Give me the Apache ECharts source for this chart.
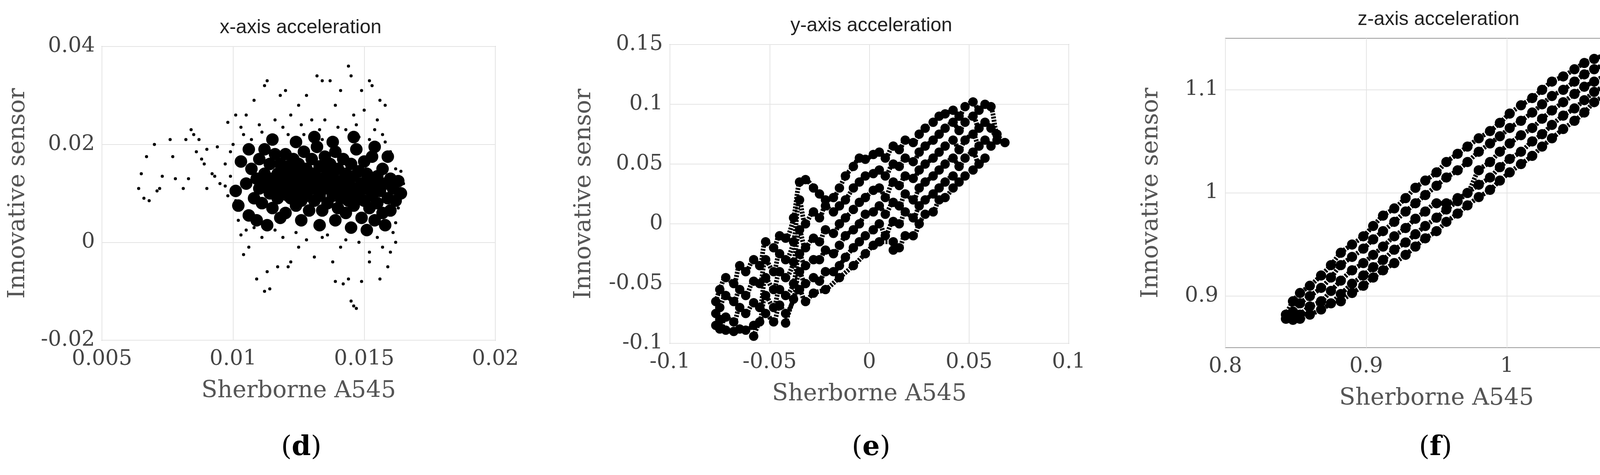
<!DOCTYPE html>
<html><head><meta charset="utf-8">
<script src="https://cdn.jsdelivr.net/npm/echarts@6/dist/echarts.min.js"></script>
<style>html,body{margin:0;background:#fff}#c{width:4303px;height:1216px}</style>
</head><body><div id="c"></div>
<script>
const titles = ['x-axis acceleration','y-axis acceleration','z-axis acceleration'];
const panelLetters = ['d','e','f'];
const xName = 'Sherborne A545', yName = 'Innovative sensor';
// Panel d: x-axis acceleration
const dOutliers = [[0.0065,0.014],[0.0064,0.011],[0.0066,0.009],[0.0068,0.0085],[0.007,0.020],[0.0067,0.0175],[0.0072,0.011],[0.0073,0.0135],[0.0071,0.0105],[0.0076,0.021],[0.0077,0.0175],[0.0078,0.013],[0.0081,0.011],[0.0082,0.021],[0.0084,0.023],[0.0085,0.022],[0.0087,0.021],[0.0086,0.0185],[0.0088,0.017],[0.0083,0.013],[0.009,0.019],[0.0089,0.016],[0.0092,0.014],[0.0093,0.0135],[0.009,0.011],[0.0094,0.0195],[0.0095,0.012],[0.0097,0.0115],[0.0098,0.0245],[0.0099,0.0185],[0.0097,0.016],
[0.0113,0.033],[0.0112,0.032],[0.0108,0.029],[0.0105,0.026],[0.0101,0.026],[0.0118,0.030],[0.012,0.031],[0.0125,0.028],[0.0128,0.030],[0.0132,0.034],[0.0134,0.033],[0.0137,0.033],[0.0141,0.031],[0.0144,0.036],[0.0145,0.034],[0.0149,0.031],[0.0152,0.033],[0.0153,0.032],[0.0156,0.029],[0.0158,0.028],[0.0155,0.025],[0.0150,0.027],[0.0146,0.026],[0.0139,0.028],[0.0135,0.025],[0.013,0.025],[0.0122,0.026],[0.0116,0.025],[0.011,0.024],[0.0104,0.022],[0.0157,0.022],[0.0143,0.023],[0.0148,0.0215],[0.0127,0.022],[0.0121,0.022],[0.0134,0.021],[0.0107,0.021],[0.0114,0.0205],[0.0152,0.021],
[0.0113,-0.006],[0.0112,-0.010],[0.0114,-0.0095],[0.0109,-0.0075],[0.0106,-0.001],[0.0104,-0.0025],[0.0117,-0.005],[0.0121,-0.005],[0.0122,-0.004],[0.0125,-0.001],[0.0131,-0.003],[0.0138,-0.004],[0.0139,-0.008],[0.0142,-0.0085],[0.0144,-0.0075],[0.0145,-0.012],[0.0146,-0.013],[0.0147,-0.0135],[0.0149,-0.008],[0.0152,-0.004],[0.0156,-0.0075],[0.0159,-0.005],[0.016,-0.002],[0.0162,0.0],[0.0152,-0.002],[0.0148,0],[0.0141,-0.001],[0.0134,0.001],[0.0128,0.0005],[0.0119,0.001],[0.0111,0.001],[0.0103,0.0015],[0.0108,0.003],[0.0155,0.001],[0.0162,0.004],[0.0163,0.007],
[0.0102,0.0045],[0.0105,0.0025],[0.0116,0.0025],[0.0124,0.002],[0.0136,0.0015],[0.0143,0.0005],[0.0157,-0.001],[0.0161,0.002],[0.0100,0.020],[0.0103,0.0235],[0.0111,0.0225],[0.0119,0.0235],[0.0126,0.024],[0.0133,0.023],[0.0140,0.0235],[0.0147,0.024],[0.0154,0.023],[0.0158,0.0205],[0.0160,0.0185],[0.0162,0.015],[0.0165,0.012],[0.0164,0.0145],[0.0099,0.0135],[0.0098,0.0095],[0.0101,0.0085]];
const dCore = [[0.0105,0.012],[0.0107,0.015],[0.0108,0.009],[0.0109,0.013],[0.011,0.017],[0.011,0.011],[0.0111,0.008],[0.0112,0.014],[0.0112,0.019],[0.0113,0.012],[0.0114,0.010],[0.0114,0.016],[0.0115,0.013],[0.0115,0.007],[0.0116,0.018],[0.0116,0.011],[0.0117,0.014],[0.0117,0.009],[0.0118,0.016],[0.0118,0.012],[0.0119,0.010],[0.0119,0.0145],[0.012,0.018],[0.012,0.013],[0.012,0.006],[0.0121,0.011],[0.0121,0.0155],[0.0122,0.009],[0.0122,0.0135],[0.0123,0.017],[0.0123,0.012],[0.0124,0.0075],[0.0124,0.0145],[0.0125,0.0105],[0.0125,0.016],[0.0126,0.013],[0.0126,0.0085],[0.0127,0.0185],[0.0127,0.0115],[0.0128,0.015],[0.0128,0.0095],[0.0129,0.0125],[0.0129,0.0065],[0.013,0.017],[0.013,0.011],[0.0131,0.014],[0.0131,0.0085],[0.0132,0.0195],[0.0132,0.012],[0.0133,0.0155],[0.0133,0.0095],[0.0134,0.013],[0.0134,0.0065],[0.0135,0.0175],[0.0135,0.011],[0.0136,0.0145],[0.0136,0.008],[0.0137,0.012],[0.0137,0.016],[0.0138,0.0095],[0.0138,0.0135],[0.0139,0.0185],[0.0139,0.011],[0.014,0.007],[0.014,0.015],[0.0141,0.0125],[0.0141,0.009],[0.0142,0.017],[0.0142,0.0105],[0.0143,0.014],[0.0143,0.006],[0.0144,0.012],[0.0144,0.0085],[0.0145,0.016],[0.0145,0.0105],[0.0146,0.0135],[0.0146,0.0075],[0.0147,0.011],[0.0147,0.019],[0.0148,0.0095],[0.0148,0.0145],[0.0149,0.012],[0.0149,0.005],[0.015,0.0165],[0.015,0.0085],[0.0151,0.011],[0.0151,0.014],[0.0152,0.007],[0.0152,0.0125],[0.0153,0.0095],[0.0153,0.0175],[0.0154,0.0115],[0.0154,0.0045],[0.0155,0.0135],[0.0155,0.008],[0.0156,0.0105],[0.0157,0.015],[0.0157,0.006],[0.0158,0.012],[0.0159,0.009],[0.016,0.013],[0.016,0.0065],[0.0161,0.011],[0.0162,0.0085],[0.0163,0.0125],[0.0164,0.01],[0.0106,0.0055],[0.0109,0.0045],[0.0113,0.0035],[0.0118,0.005],[0.0126,0.0045],[0.0133,0.0035],[0.0139,0.0045],[0.0145,0.003],[0.0151,0.0025],[0.0158,0.0035],[0.0102,0.0075],[0.0101,0.0105],[0.0103,0.0165],[0.0106,0.019],[0.0115,0.021],[0.0124,0.0205],[0.0131,0.0215],[0.0138,0.0205],[0.0146,0.0215],[0.0154,0.0195],[0.0159,0.0175],[0.0121,0.0095],[0.0127,0.0135],[0.0134,0.0115],[0.0141,0.0105],[0.0119,0.0125],[0.0143,0.0115],[0.0136,0.0125],[0.0123,0.0105]];
// Panel e: y-axis acceleration, columns [x, [y values]]
const eCols = [[-0.077,[-0.065,-0.075,-0.085]],[-0.075,[-0.055,-0.07,-0.088,-0.08]],[-0.072,[-0.045,-0.06,-0.078,-0.089]],[-0.068,[-0.05,-0.065,-0.082,-0.09]],[-0.065,[-0.035,-0.055,-0.07,-0.088]],[-0.062,[-0.04,-0.06,-0.075,-0.089]],[-0.058,[-0.03,-0.048,-0.066,-0.085,-0.094]],[-0.055,[-0.035,-0.05,-0.07,-0.082]],[-0.052,[-0.015,-0.03,-0.045,-0.06,-0.075]],[-0.048,[-0.02,-0.04,-0.055,-0.07,-0.082]],[-0.045,[-0.01,-0.025,-0.04,-0.055,-0.068]],[-0.042,[-0.012,-0.03,-0.045,-0.06,-0.075,-0.083]],[-0.038,[0.005,-0.015,-0.032,-0.05,-0.063]],[-0.035,[0.035,0.02,-0.005,-0.025,-0.04,-0.055]],[-0.032,[0.037,0.0,-0.02,-0.035,-0.05,-0.065]],[-0.028,[0.03,0.01,-0.012,-0.03,-0.045,-0.058]],[-0.025,[0.025,0.005,-0.015,-0.03,-0.048]],[-0.022,[0.02,0.015,-0.005,-0.022,-0.04,-0.055]],[-0.018,[0.022,0.01,-0.008,-0.025,-0.04]],[-0.015,[0.03,0.015,0.0,-0.018,-0.035,-0.045]],[-0.012,[0.04,0.02,0.005,-0.01,-0.028]],[-0.008,[0.048,0.03,0.012,-0.005,-0.02,-0.035]],[-0.005,[0.055,0.035,0.018,0.0,-0.015]],[-0.002,[0.054,0.04,0.022,0.008,-0.01,-0.025]],[0.002,[0.058,0.042,0.028,0.01,-0.005,-0.018]],[0.005,[0.06,0.045,0.03,0.015,0.0,-0.015]],[0.008,[0.055,0.04,0.022,0.008,-0.01]],[0.012,[0.065,0.05,0.035,0.018,0.002,-0.015,-0.022]],[0.015,[0.062,0.048,0.032,0.015,0.0,-0.02]],[0.018,[0.07,0.055,0.04,0.025,0.01,-0.01]],[0.022,[0.068,0.052,0.038,0.02,0.005,-0.01]],[0.025,[0.075,0.06,0.045,0.03,0.015,0.0]],[0.028,[0.08,0.065,0.05,0.035,0.02,0.008]],[0.032,[0.085,0.07,0.055,0.04,0.025,0.01]],[0.035,[0.09,0.075,0.06,0.045,0.03,0.02]],[0.038,[0.092,0.08,0.065,0.05,0.035,0.022]],[0.042,[0.095,0.085,0.07,0.055,0.04,0.03]],[0.045,[0.09,0.078,0.062,0.048,0.035]],[0.048,[0.098,0.085,0.07,0.055,0.04]],[0.052,[0.102,0.09,0.075,0.06,0.045]],[0.055,[0.095,0.08,0.065,0.05]],[0.058,[0.1,0.085,0.07,0.055]],[0.061,[0.098,0.08,0.065]],[0.064,[0.075,0.07]],[0.068,[0.068]]];
// Panel f: z-axis acceleration
const fCols = [[0.843,[0.882,0.878]],[0.848,[0.895,0.885,0.877]],[0.853,[0.903,0.893,0.882,0.878]],[0.86,[0.91,0.9,0.89,0.882]],[0.868,[0.92,0.908,0.895,0.887]],[0.875,[0.93,0.918,0.905,0.893]],[0.882,[0.942,0.93,0.915,0.902,0.895]],[0.89,[0.95,0.938,0.925,0.912,0.903]],[0.898,[0.958,0.946,0.932,0.92,0.91]],[0.905,[0.968,0.955,0.94,0.928,0.918]],[0.912,[0.978,0.963,0.948,0.935,0.925]],[0.92,[0.985,0.972,0.958,0.945,0.932]],[0.928,[0.995,0.982,0.966,0.952,0.94]],[0.935,[1.005,0.99,0.975,0.96,0.948]],[0.942,[1.012,0.998,0.982,0.968,0.956]],[0.95,[1.02,1.007,0.99,0.976,0.963]],[0.957,[1.03,1.015,0.99,0.984,0.972]],[0.965,[1.038,1.022,0.995,0.992,0.98]],[0.972,[1.045,1.03,1.0,1.0,0.988]],[0.98,[1.053,1.04,1.022,1.008,0.996]],[0.988,[1.06,1.048,1.03,1.015,1.003]],[0.995,[1.068,1.055,1.04,1.025,1.012]],[1.002,[1.077,1.063,1.048,1.033,1.02]],[1.01,[1.085,1.07,1.056,1.04,1.028]],[1.018,[1.092,1.078,1.063,1.05,1.036]],[1.025,[1.1,1.086,1.072,1.057,1.045]],[1.032,[1.108,1.094,1.08,1.066,1.053]],[1.04,[1.113,1.1,1.088,1.075,1.062]],[1.048,[1.12,1.108,1.096,1.082,1.07]],[1.055,[1.126,1.115,1.103,1.09,1.078]],[1.062,[1.13,1.12,1.108,1.098,1.088]],[1.07,[1.134,1.125,1.114,1.104,1.095]],[1.078,[1.138,1.13,1.12,1.11,1.102]],[1.085,[1.142,1.135,1.126,1.118,1.11]],[1.09,[1.138,1.13,1.122]]];
const fYTicks = [0.9, 1, 1.1];

const flat = cols => cols.flatMap(([x, ys]) => ys.map(y => [x, y]));
const strands = cols => { const n = Math.max(...cols.map(c=>c[1].length)); const out=[];
  for (let k=0;k<n;k++) out.push(cols.filter(c=>c[1].length>k).map(c=>[c[0], c[1][k]])); return out; };
const serif = '"DejaVu Serif","Liberation Serif",serif';
const grids = [
  {left:261, width:1007, top:119, height:752},
  {left:1715, width:1021, top:114, height:765},
  {left:3137, width:1081, top:98, height:792}
];
const xCfg = [{min:0.005,max:0.02,interval:0.005},{min:-0.1,max:0.1,interval:0.05},{min:0.8,max:1.1,interval:0.1}];
const yCfg = [{min:-0.02,max:0.04,interval:0.02},{min:-0.1,max:0.15,interval:0.05},{min:0.85,max:1.15,interval:0.05}];
const yGaps = [185, 190, 160];
const fmt = v => String(+v.toFixed(4));
const lab = {fontFamily:serif, fontSize:54, color:'#444'};
const strandSeries = (cols, idx, w) => strands(cols).map(d => ({type:'line', xAxisIndex:idx, yAxisIndex:idx, data:d,
  showSymbol:false, smooth:0.3, lineStyle:{color:'#000', width:w, type:[5,3]}, z:2}));
const option = {
  animation:false, backgroundColor:'#fff',
  grid: grids.map(g => Object.assign({show:true, borderColor:'#999', borderWidth:2}, g)),
  title: titles.map((t,i)=>({text:t, left:grids[i].left+grids[i].width/2, top:grids[i].top-78, textAlign:'center',
    textStyle:{fontFamily:'"Liberation Sans",Arial,sans-serif', fontSize:50, fontWeight:'normal', color:'#222'}})),
  xAxis: xCfg.map((c,i)=>Object.assign({type:'value', gridIndex:i, name:xName, nameLocation:'middle', nameGap:100,
    nameTextStyle:{fontFamily:serif, fontSize:60, color:'#555'},
    axisLine:{show:false}, axisTick:{show:false},
    axisLabel:Object.assign({margin:22, formatter:fmt}, lab),
    splitLine:{show:true, lineStyle:{color:'#e4e4e4', width:2}}}, c)),
  yAxis: yCfg.map((c,i)=>Object.assign({type:'value', gridIndex:i, name:yName, nameLocation:'middle', nameGap:yGaps[i],
    nameTextStyle:{fontFamily:serif, fontSize:60, color:'#555'},
    axisLine:{show:false}, axisTick:{show:false},
    axisLabel:Object.assign({margin:18, formatter: i===2 ? (v=>fYTicks.some(t=>Math.abs(t-v)<1e-6)?fmt(v):'') : fmt}, lab),
    splitLine:{show:i!==2, lineStyle:{color:'#e4e4e4', width:2}}}, c)),
  series: [
    {type:'scatter', xAxisIndex:0, yAxisIndex:0, data:dOutliers, symbolSize:8, itemStyle:{color:'#000', opacity:1}},
    {type:'scatter', xAxisIndex:0, yAxisIndex:0, data:dCore, symbolSize:32, itemStyle:{color:'#000', opacity:1}},
    {type:'scatter', xAxisIndex:1, yAxisIndex:1, data:flat(eCols), symbolSize:24, itemStyle:{color:'#000', opacity:1}},
    ...strandSeries(eCols, 1, 12),
    {type:'scatter', xAxisIndex:2, yAxisIndex:2, data:flat(fCols), symbolSize:26, itemStyle:{color:'#000', opacity:1},
      markLine:{silent:true, symbol:'none', label:{show:false}, lineStyle:{color:'#e4e4e4', width:2, type:'solid'}, z:0,
        data: fYTicks.map(v=>({yAxis:v}))}},
    ...strandSeries(fCols, 2, 12)
  ],
  graphic: panelLetters.map((l,i)=>({type:'text', left:grids[i].left+grids[i].width/2-45, top:1112,
    style:{text:'{n|(}{b|'+l+'}{n|)}', rich:{n:{fontFamily:serif,fontSize:70,fill:'#000'},b:{fontFamily:serif,fontSize:70,fontWeight:'bold',fill:'#000'}}}}))
};
echarts.init(document.getElementById('c')).setOption(option);
</script></body></html>
